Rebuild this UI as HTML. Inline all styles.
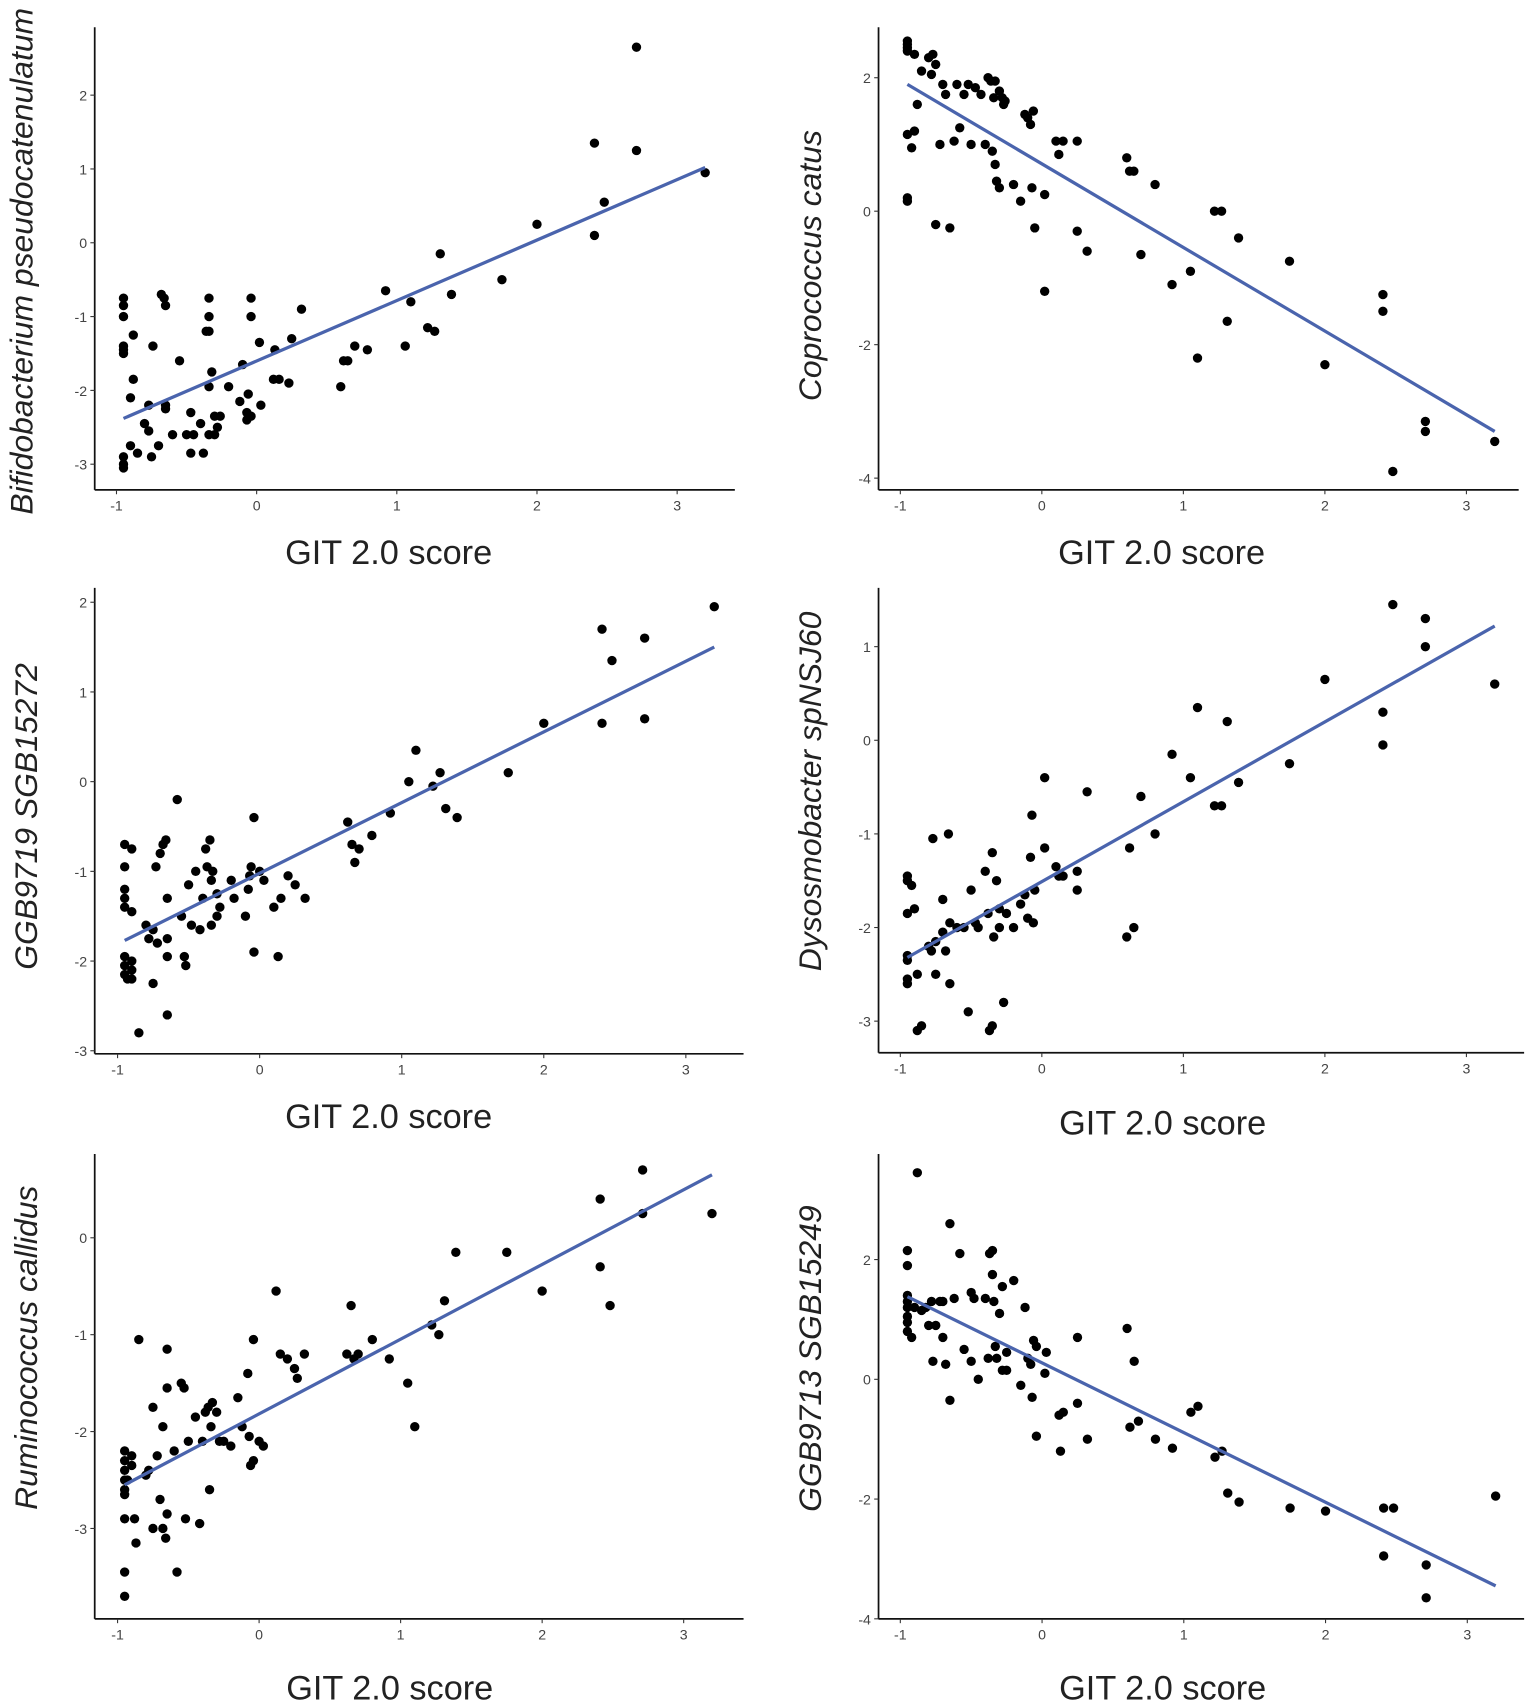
<!DOCTYPE html>
<html><head><meta charset="utf-8"><style>
html,body{margin:0;padding:0;background:#fff;}
svg{display:block;}
</style></head><body>
<svg id="fig" width="1535" height="1707" viewBox="0 0 1410 1568" preserveAspectRatio="none" xmlns="http://www.w3.org/2000/svg"></svg>
<script>
// ---- data ----
const xTicks = [-1, 0, 1, 2, 3];
const p1Ticks = [-3, -2, -1, 0, 1, 2];
const p2Ticks = [-4, -2, 0, 2];
const p3Ticks = [-3, -2, -1, 0, 1, 2];
const p4Ticks = [-3, -2, -1, 0, 1];
const p5Ticks = [-3, -2, -1, 0];
const p6Ticks = [-4, -2, 0, 2];
const p1Fit = [[-0.95, -2.38], [3.2, 1.02]];
const p2Fit = [[-0.95, 1.9], [3.2, -3.3]];
const p3Fit = [[-0.95, -1.77], [3.2, 1.5]];
const p4Fit = [[-0.95, -2.32], [3.2, 1.22]];
const p5Fit = [[-0.95, -2.55], [3.2, 0.65]];
const p6Fit = [[-0.95, 1.38], [3.2, -3.45]];
const p1Points = [[-0.95,-0.75],[-0.95,-0.85],[-0.95,-1.0],[-0.95,-1.4],[-0.95,-1.45],[-0.95,-1.5],[-0.95,-2.9],[-0.95,-3.0],[-0.95,-3.05],[-0.9,-2.1],[-0.9,-2.75],[-0.88,-1.25],[-0.88,-1.85],[-0.85,-2.85],[-0.8,-2.45],[-0.77,-2.2],[-0.77,-2.55],[-0.75,-2.9],[-0.74,-1.4],[-0.7,-2.75],[-0.68,-0.7],[-0.66,-0.75],[-0.65,-0.85],[-0.65,-2.2],[-0.65,-2.25],[-0.6,-2.6],[-0.55,-1.6],[-0.5,-2.6],[-0.47,-2.3],[-0.47,-2.85],[-0.45,-2.6],[-0.4,-2.45],[-0.38,-2.85],[-0.36,-1.2],[-0.34,-0.75],[-0.34,-1.0],[-0.34,-1.2],[-0.34,-1.95],[-0.34,-2.6],[-0.32,-1.75],[-0.3,-2.35],[-0.3,-2.6],[-0.28,-2.5],[-0.26,-2.35],[-0.2,-1.95],[-0.12,-2.15],[-0.1,-1.65],[-0.07,-2.3],[-0.07,-2.4],[-0.06,-2.05],[-0.04,-2.35],[-0.04,-0.75],[-0.04,-1.0],[0.02,-1.35],[0.03,-2.2],[0.12,-1.85],[0.13,-1.45],[0.16,-1.85],[0.23,-1.9],[0.25,-1.3],[0.32,-0.9],[0.6,-1.95],[0.62,-1.6],[0.65,-1.6],[0.7,-1.4],[0.79,-1.45],[0.92,-0.65],[1.06,-1.4],[1.1,-0.8],[1.22,-1.15],[1.27,-1.2],[1.31,-0.15],[1.39,-0.7],[1.75,-0.5],[2.0,0.25],[2.41,1.35],[2.41,0.1],[2.48,0.55],[2.71,2.65],[2.71,1.25],[3.2,0.95]];
const p2Points = [[-0.95,2.55],[-0.95,2.5],[-0.95,2.45],[-0.95,2.4],[-0.95,1.15],[-0.95,0.2],[-0.95,0.15],[-0.9,2.35],[-0.9,1.2],[-0.92,0.95],[-0.88,1.6],[-0.85,2.1],[-0.8,2.3],[-0.78,2.05],[-0.77,2.35],[-0.75,2.2],[-0.75,-0.2],[-0.72,1.0],[-0.7,1.9],[-0.68,1.75],[-0.65,-0.25],[-0.62,1.05],[-0.6,1.9],[-0.58,1.25],[-0.55,1.75],[-0.52,1.9],[-0.5,1.0],[-0.47,1.85],[-0.43,1.75],[-0.4,1.0],[-0.38,2.0],[-0.36,1.95],[-0.35,0.9],[-0.34,1.7],[-0.33,1.95],[-0.33,0.7],[-0.32,0.45],[-0.3,1.8],[-0.3,0.35],[-0.28,1.7],[-0.27,1.6],[-0.26,1.65],[-0.2,0.4],[-0.15,0.15],[-0.12,1.45],[-0.1,1.4],[-0.08,1.3],[-0.07,0.35],[-0.06,1.5],[-0.05,-0.25],[0.02,-1.2],[0.02,0.25],[0.1,1.05],[0.12,0.85],[0.15,1.05],[0.25,1.05],[0.25,-0.3],[0.32,-0.6],[0.6,0.8],[0.62,0.6],[0.65,0.6],[0.7,-0.65],[0.8,0.4],[0.92,-1.1],[1.05,-0.9],[1.1,-2.2],[1.22,0.0],[1.27,0.0],[1.31,-1.65],[1.39,-0.4],[1.75,-0.75],[2.0,-2.3],[2.41,-1.25],[2.41,-1.5],[2.48,-3.9],[2.71,-3.15],[2.71,-3.3],[3.2,-3.45]];
const p3Points = [[-0.95,-0.7],[-0.95,-0.95],[-0.95,-1.2],[-0.95,-1.3],[-0.95,-1.4],[-0.95,-1.95],[-0.95,-2.05],[-0.95,-2.15],[-0.93,-2.2],[-0.9,-0.75],[-0.9,-1.45],[-0.9,-2.2],[-0.9,-2.1],[-0.9,-2.0],[-0.85,-2.8],[-0.8,-1.6],[-0.78,-1.75],[-0.75,-2.25],[-0.75,-1.65],[-0.73,-0.95],[-0.72,-1.8],[-0.7,-0.8],[-0.68,-0.7],[-0.66,-0.65],[-0.65,-1.95],[-0.65,-1.75],[-0.65,-2.6],[-0.65,-1.3],[-0.58,-0.2],[-0.55,-1.5],[-0.53,-1.95],[-0.52,-2.05],[-0.5,-1.15],[-0.48,-1.6],[-0.45,-1.0],[-0.42,-1.65],[-0.4,-1.3],[-0.38,-0.75],[-0.37,-0.95],[-0.35,-0.65],[-0.34,-1.1],[-0.34,-1.6],[-0.33,-1.0],[-0.3,-1.5],[-0.3,-1.25],[-0.28,-1.4],[-0.2,-1.1],[-0.18,-1.3],[-0.1,-1.5],[-0.08,-1.2],[-0.07,-1.05],[-0.06,-0.95],[-0.04,-0.4],[-0.04,-1.9],[0.0,-1.0],[0.03,-1.1],[0.1,-1.4],[0.13,-1.95],[0.15,-1.3],[0.2,-1.05],[0.25,-1.15],[0.32,-1.3],[0.62,-0.45],[0.65,-0.7],[0.67,-0.9],[0.7,-0.75],[0.79,-0.6],[0.92,-0.35],[1.05,0.0],[1.1,0.35],[1.22,-0.05],[1.27,0.1],[1.31,-0.3],[1.39,-0.4],[1.75,0.1],[2.0,0.65],[2.41,0.65],[2.41,1.7],[2.48,1.35],[2.71,1.6],[2.71,0.7],[3.2,1.95]];
const p4Points = [[-0.95,-1.45],[-0.95,-1.5],[-0.95,-1.85],[-0.95,-2.3],[-0.95,-2.35],[-0.95,-2.6],[-0.95,-2.55],[-0.92,-1.55],[-0.9,-1.8],[-0.88,-2.5],[-0.88,-3.1],[-0.85,-3.05],[-0.8,-2.2],[-0.78,-2.25],[-0.77,-1.05],[-0.75,-2.15],[-0.75,-2.5],[-0.7,-2.05],[-0.7,-1.7],[-0.68,-2.25],[-0.66,-1.0],[-0.65,-2.6],[-0.65,-1.95],[-0.6,-2.0],[-0.55,-2.0],[-0.52,-2.9],[-0.5,-1.6],[-0.47,-1.95],[-0.45,-2.0],[-0.4,-1.4],[-0.38,-1.85],[-0.37,-3.1],[-0.35,-3.05],[-0.35,-1.2],[-0.34,-2.1],[-0.32,-1.5],[-0.3,-2.0],[-0.3,-1.8],[-0.27,-2.8],[-0.25,-1.85],[-0.2,-2.0],[-0.15,-1.75],[-0.12,-1.65],[-0.1,-1.9],[-0.08,-1.25],[-0.07,-0.8],[-0.06,-1.95],[-0.05,-1.6],[0.02,-0.4],[0.02,-1.15],[0.1,-1.35],[0.12,-1.45],[0.15,-1.45],[0.25,-1.4],[0.25,-1.6],[0.32,-0.55],[0.6,-2.1],[0.62,-1.15],[0.65,-2.0],[0.7,-0.6],[0.8,-1.0],[0.92,-0.15],[1.05,-0.4],[1.1,0.35],[1.22,-0.7],[1.27,-0.7],[1.31,0.2],[1.39,-0.45],[1.75,-0.25],[2.0,0.65],[2.41,0.3],[2.41,-0.05],[2.48,1.45],[2.71,1.3],[2.71,1.0],[3.2,0.6]];
const p5Points = [[-0.95,-2.2],[-0.95,-2.3],[-0.95,-2.4],[-0.95,-2.5],[-0.95,-2.6],[-0.95,-2.65],[-0.95,-2.9],[-0.95,-3.45],[-0.95,-3.7],[-0.93,-2.5],[-0.9,-2.35],[-0.9,-2.25],[-0.88,-2.9],[-0.87,-3.15],[-0.85,-1.05],[-0.8,-2.45],[-0.78,-2.4],[-0.75,-1.75],[-0.75,-3.0],[-0.72,-2.25],[-0.7,-2.7],[-0.68,-1.95],[-0.68,-3.0],[-0.66,-3.1],[-0.65,-1.15],[-0.65,-1.55],[-0.65,-2.85],[-0.6,-2.2],[-0.58,-3.45],[-0.55,-1.5],[-0.53,-1.55],[-0.52,-2.9],[-0.5,-2.1],[-0.45,-1.85],[-0.42,-2.95],[-0.4,-2.1],[-0.38,-1.8],[-0.36,-1.75],[-0.35,-2.6],[-0.34,-1.95],[-0.33,-1.7],[-0.3,-1.8],[-0.28,-2.1],[-0.25,-2.1],[-0.2,-2.15],[-0.15,-1.65],[-0.12,-1.95],[-0.08,-1.4],[-0.07,-2.05],[-0.06,-2.35],[-0.04,-1.05],[-0.04,-2.3],[0.0,-2.1],[0.03,-2.15],[0.12,-0.55],[0.15,-1.2],[0.2,-1.25],[0.25,-1.35],[0.27,-1.45],[0.32,-1.2],[0.62,-1.2],[0.65,-0.7],[0.67,-1.25],[0.7,-1.2],[0.8,-1.05],[0.92,-1.25],[1.05,-1.5],[1.1,-1.95],[1.22,-0.9],[1.27,-1.0],[1.31,-0.65],[1.39,-0.15],[1.75,-0.15],[2.0,-0.55],[2.41,0.4],[2.41,-0.3],[2.48,-0.7],[2.71,0.7],[2.71,0.25],[3.2,0.25]];
const p6Points = [[-0.95,2.15],[-0.95,1.9],[-0.95,1.4],[-0.95,1.3],[-0.95,1.2],[-0.95,1.05],[-0.95,0.95],[-0.95,0.8],[-0.92,0.7],[-0.9,1.2],[-0.88,3.45],[-0.85,1.15],[-0.82,1.2],[-0.8,0.9],[-0.78,1.3],[-0.77,0.3],[-0.75,0.9],[-0.72,1.3],[-0.7,1.3],[-0.7,0.7],[-0.68,0.25],[-0.65,2.6],[-0.65,-0.35],[-0.62,1.35],[-0.58,2.1],[-0.55,0.5],[-0.5,1.45],[-0.5,0.3],[-0.48,1.35],[-0.45,0.0],[-0.4,1.35],[-0.38,0.35],[-0.37,2.1],[-0.35,2.15],[-0.35,1.75],[-0.34,1.3],[-0.33,0.55],[-0.32,0.35],[-0.3,1.1],[-0.28,0.15],[-0.28,1.55],[-0.25,0.15],[-0.25,0.45],[-0.2,1.65],[-0.15,-0.1],[-0.12,1.2],[-0.1,0.35],[-0.08,0.25],[-0.07,-0.3],[-0.06,0.65],[-0.04,-0.95],[-0.04,0.55],[0.02,0.1],[0.03,0.45],[0.12,-0.6],[0.13,-1.2],[0.15,-0.55],[0.25,-0.4],[0.25,0.7],[0.32,-1.0],[0.6,0.85],[0.62,-0.8],[0.65,0.3],[0.68,-0.7],[0.8,-1.0],[0.92,-1.15],[1.05,-0.55],[1.1,-0.45],[1.22,-1.3],[1.27,-1.2],[1.31,-1.9],[1.39,-2.05],[1.75,-2.15],[2.0,-2.2],[2.41,-2.15],[2.48,-2.15],[2.41,-2.95],[2.71,-3.1],[2.71,-3.65],[3.2,-1.95]];

// ---- layout (pixel geometry, not data) ----
const panels = [
 {id:'bifidobacterium', title:'Bifidobacterium pseudocatenulatum', ax:87, top:25, bot:450, right:675, xm1:107, xu:128.75, y0:223, yu:67.8, ticks:p1Ticks, pts:p1Points, fit:p1Fit, tx:20, ty:240, lx:357, ly:518},
 {id:'coprococcus', title:'Coprococcus catus', ax:807, top:25, bot:450, right:1395, xm1:827, xu:130, y0:194, yu:61.3, ticks:p2Ticks, pts:p2Points, fit:p2Fit, tx:744, ty:244, lx:1067, ly:518},
 {id:'ggb9719', title:'GGB9719 SGB15272', ax:87, top:540, bot:968, right:683, xm1:108, xu:130.5, y0:718, yu:82.4, ticks:p3Ticks, pts:p3Points, fit:p3Fit, tx:24, ty:750, lx:357, ly:1036},
 {id:'dysosmobacter', title:'Dysosmobacter spNSJ60', ax:807, top:540, bot:967, right:1400, xm1:827, xu:130, y0:680, yu:86, ticks:p4Ticks, pts:p4Points, fit:p4Fit, tx:744, ty:727, lx:1068, ly:1042},
 {id:'ruminococcus', title:'Ruminococcus callidus', ax:87, top:1060, bot:1487, right:683, xm1:108, xu:130, y0:1137, yu:89, ticks:p5Ticks, pts:p5Points, fit:p5Fit, tx:24, ty:1238, lx:358, ly:1561},
 {id:'ggb9713', title:'GGB9713 SGB15249', ax:807, top:1060, bot:1487, right:1400, xm1:827, xu:130.2, y0:1267, yu:55, ticks:p6Ticks, pts:p6Points, fit:p6Fit, tx:744, ty:1248, lx:1068, ly:1561}
];
const NS='http://www.w3.org/2000/svg';
const svg=document.getElementById('fig');
function mk(tag, attrs, parent){const e=document.createElementNS(NS,tag);for(const k in attrs)e.setAttribute(k,attrs[k]);parent.appendChild(e);return e;}
panels.forEach(p=>{
  const g=mk('g',{},svg);
  
  
  const sx=v=>p.xm1+(v+1)*p.xu;
  const sy=v=>p.y0-v*p.yu;
  const ya=mk('line',{x1:p.ax,y1:p.top,x2:p.ax,y2:p.bot,stroke:'#111','stroke-width':1.6},g);
  
  
  const xa=mk('line',{x1:p.ax,y1:p.bot,x2:p.right,y2:p.bot,stroke:'#111','stroke-width':1.6},g);
  
  
  xTicks.forEach(t=>{
    mk('line',{x1:sx(t),y1:p.bot,x2:sx(t),y2:p.bot+4,stroke:'#333','stroke-width':1},g);
    const tl=mk('text',{x:sx(t),y:p.bot+19,'text-anchor':'middle','font-size':13,fill:'#444','font-family':'Liberation Sans, sans-serif'},g);
    tl.textContent=String(t);
    
    
  });
  p.ticks.forEach(t=>{
    mk('line',{x1:p.ax-4,y1:sy(t),x2:p.ax,y2:sy(t),stroke:'#333','stroke-width':1},g);
    const tl=mk('text',{x:p.ax-7,y:sy(t)+5,'text-anchor':'end','font-size':13,fill:'#444','font-family':'Liberation Sans, sans-serif'},g);
    tl.textContent=String(t);
    
    
  });
  p.pts.forEach(d=>{
    const c=mk('circle',{cx:sx(d[0]),cy:sy(d[1]),r:4.3,fill:'#000'},g);
    
    
  });
  const fl=mk('line',{x1:sx(p.fit[0][0]),y1:sy(p.fit[0][1]),x2:sx(p.fit[1][0]),y2:sy(p.fit[1][1]),stroke:'#4a64ad','stroke-width':3},g);
  
  
  const xl=mk('text',{x:p.lx,y:p.ly,'text-anchor':'middle','font-size':31.5,fill:'#222','font-family':'Liberation Sans, sans-serif'},g);
  xl.textContent='GIT 2.0 score';
  
  
  const yl=mk('text',{x:0,y:0,'text-anchor':'middle','font-size':29.3,'font-style':'italic',fill:'#222','font-family':'Liberation Sans, sans-serif',transform:'translate('+(p.tx+10)+','+p.ty+') rotate(-90)'},g);
  yl.textContent=p.title;
  
  
});
</script>
</body></html>
